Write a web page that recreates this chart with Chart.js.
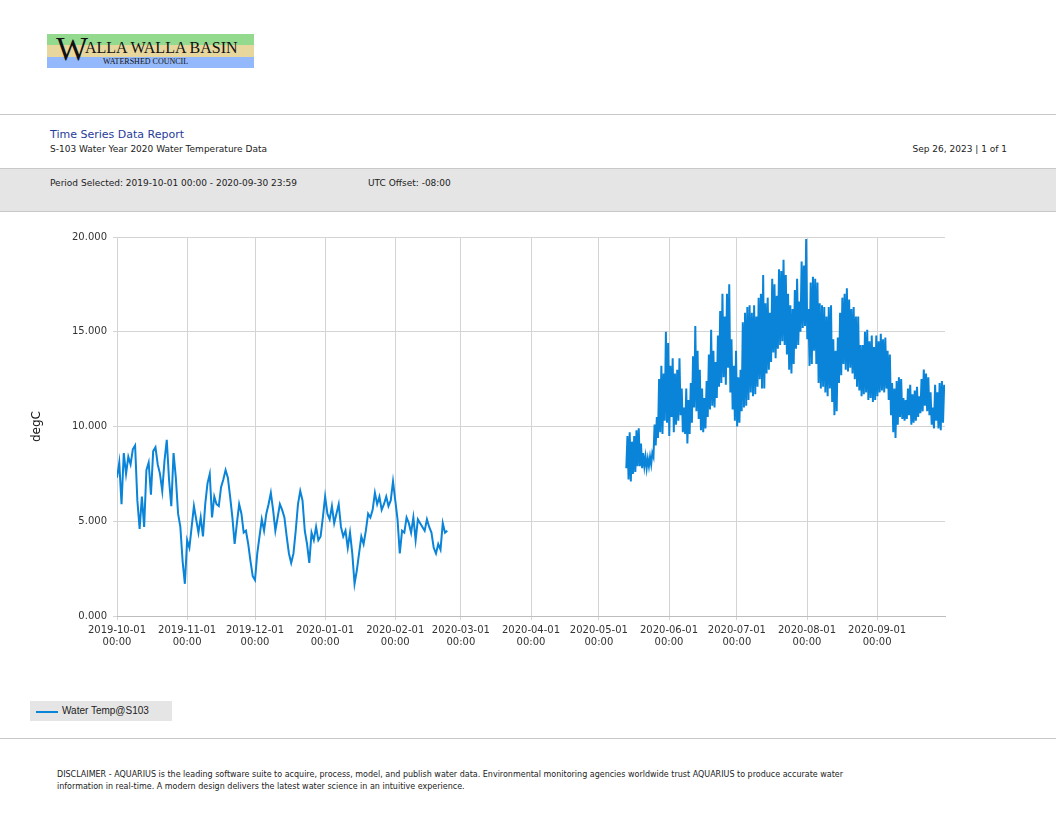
<!DOCTYPE html>
<html>
<head>
<meta charset="utf-8">
<script src="https://cdn.jsdelivr.net/npm/chart.js@4"></script>
<style>
  body { margin: 0; width: 1056px; height: 816px; position: relative; background: #fff; font-family: "DejaVu Sans", sans-serif; color: #222; overflow: hidden; }
  .abs { position: absolute; }
  .logo { left: 47px; top: 34px; width: 207px; height: 34px; }
  .band { position: absolute; left: 0; width: 207px; }
  .hr { left: 0; width: 1056px; height: 1px; background: #c8c8c8; }
  .small { font-size: 9px; }
</style>
</head>
<body>
<div class="abs logo">
  <div class="band" style="top:0;height:11px;background:#94da8e"></div>
  <div class="band" style="top:11px;height:12px;background:#e8d79d"></div>
  <div class="band" style="top:23px;height:11px;background:#93b8fb"></div>
  <div class="abs" style="left:9px;top:-2px;font-family:'Liberation Serif',serif;font-size:34px;line-height:34px;color:#111">W</div>
  <div class="abs" style="left:38px;top:5px;font-family:'Liberation Serif',serif;font-size:16px;line-height:17px;color:#111">ALLA WALLA BASIN</div>
  <div class="abs" style="left:56px;top:23px;font-family:'Liberation Serif',serif;font-size:8px;line-height:10px;color:#111">WATERSHED COUNCIL</div>
</div>
<div class="abs hr" style="top:114px"></div>
<div class="abs" style="left:50px;top:128px;font-size:11px;color:#1f3c9a">Time Series Data Report</div>
<div class="abs small" style="left:50px;top:144px">S-103 Water Year 2020 Water Temperature Data</div>
<div class="abs small" style="right:49px;top:144px">Sep 26, 2023 | 1 of 1</div>
<div class="abs" style="left:0;top:168px;width:1056px;height:42px;background:#e5e5e5;border-top:1px solid #c8c8c8;border-bottom:1px solid #c8c8c8"></div>
<div class="abs small" style="left:50px;top:178px">Period Selected: 2019-10-01 00:00 - 2020-09-30 23:59</div>
<div class="abs small" style="left:368px;top:178px">UTC Offset: -08:00</div>
<div class="abs" style="left:30px;top:225px;width:925px;height:440px"><canvas id="c"></canvas></div>
<div class="abs" style="left:30px;top:701px;width:142px;height:20px;background:#e5e5e5"></div>
<div class="abs" style="left:36px;top:711px;width:22px;height:2px;background:#0a84d8"></div>
<div class="abs" style="left:62px;top:705px;font-size:10px;font-family:'Liberation Sans',sans-serif">Water Temp@S103</div>
<div class="abs hr" style="top:738px"></div>
<div class="abs" style="left:57px;top:769px;font-size:8px;line-height:11.5px">DISCLAIMER - AQUARIUS is the leading software suite to acquire, process, model, and publish water data. Environmental monitoring agencies worldwide trust AQUARIUS to produce accurate water<br>information in real-time. A modern design delivers the latest water science in an intuitive experience.</div>
<script>
// days since 2019-10-01 for each month start
const tickDays = [0, 31, 61, 92, 123, 152, 183, 213, 244, 274, 305, 336];
const tickLabels = ['2019-10-01', '2019-11-01', '2019-12-01', '2020-01-01', '2020-02-01', '2020-03-01',
  '2020-04-01', '2020-05-01', '2020-06-01', '2020-07-01', '2020-08-01', '2020-09-01'];
const yTicks = [0, 5, 10, 15, 20];

// autumn/winter segment: one reading per day from day 0
const winterTemp = [
  7.3, 8.1, 5.9, 8.6, 7.5, 8.4, 8.0, 8.8, 9.0, 6.1, 4.6, 6.3, 4.7, 7.7, 8.1, 6.4, 8.7, 8.9, 8.0, 7.5,
  6.6, 8.2, 9.3, 7.2, 5.8, 8.6, 7.3, 5.4, 4.7, 2.9, 1.7, 4.0, 3.6, 4.7, 5.8, 5.1, 4.4, 5.2, 4.2, 5.9,
  7.0, 7.5, 5.2, 6.3, 5.9, 5.8, 6.8, 7.2, 7.7, 7.3, 6.3, 5.2, 3.8, 4.9, 5.9, 5.4, 4.4, 4.5, 3.8, 2.9,
  2.1, 1.9, 3.3, 4.2, 5.1, 4.5, 5.4, 5.9, 6.5, 5.6, 4.5, 5.2, 5.9, 5.6, 5.2, 4.2, 3.3, 2.8, 3.3, 4.5,
  5.9, 6.6, 6.1, 4.5, 3.8, 2.8, 4.4, 4.0, 4.7, 4.0, 4.2, 5.2, 6.3, 5.4, 5.1, 5.8, 4.9, 5.4, 5.9, 4.7,
  4.2, 4.5, 3.6, 4.4, 3.3, 1.7, 2.4, 3.3, 4.2, 3.8, 4.5, 5.4, 5.2, 5.6, 6.5, 5.9, 6.3, 5.6, 5.9, 6.3,
  5.8, 6.1, 7.1, 6.1, 5.1, 3.3, 4.5, 4.4, 5.2, 4.9, 4.4, 5.2, 4.0, 5.1, 4.9, 4.7, 4.5, 5.1, 4.7, 4.4,
  3.6, 3.3, 3.8, 3.5, 4.9, 4.4, 4.5
];

// spring/summer segment: daily max and min from day 225
const summerStart = 225;
const summerMax = [
  9.5, 9.7, 9.2, 9.5, 9.8, 9.9, 9.1, 8.6, 8.4, 8.3, 8.4, 8.6, 10.1, 10.5, 12.5, 13.2, 12.8, 15.0, 14.4, 13.2,
  13.6, 12.8, 13.0, 13.6, 12.0, 11.0, 12.0, 11.4, 12.3, 13.7, 15.3, 14.0, 13.0, 12.0, 11.5, 12.4, 13.8, 15.1, 14.0, 13.4,
  14.8, 16.1, 17.0, 15.8, 17.0, 17.5, 14.6, 13.2, 14.0, 12.6, 13.0, 15.5, 16.0, 16.3, 16.4, 16.0, 16.4, 15.8, 16.8, 17.0,
  18.0, 16.5, 16.8, 16.0, 17.8, 17.5, 16.9, 18.3, 18.2, 18.8, 18.0, 17.0, 16.4, 16.2, 17.2, 17.8, 16.6, 18.7, 18.5, 19.9,
  16.2, 17.6, 17.9, 17.8, 17.6, 16.5, 16.4, 16.3, 15.8, 16.3, 16.4, 14.6, 14.0, 14.7, 16.0, 16.8, 17.0, 17.3, 16.7, 16.2,
  16.3, 15.8, 15.8, 14.3, 14.3, 15.0, 15.1, 14.5, 14.8, 14.2, 14.8, 14.5, 14.9, 14.6, 14.7, 14.0, 13.8, 12.3, 12.0, 12.4,
  12.6, 12.5, 11.5, 11.4, 12.0, 12.2, 11.7, 11.9, 12.1, 11.6, 12.5, 13.0, 12.8, 12.6, 11.8, 11.0, 12.2, 11.8, 12.3, 12.4,
  12.2
];
const summerMin = [
  7.8, 7.2, 7.1, 7.5, 7.6, 7.9, 7.9, 7.8, 7.9, 7.8, 7.9, 8.0, 8.4, 9.0, 9.4, 9.7, 9.6, 10.3, 10.2, 9.5,
  10.5, 9.7, 10.1, 10.3, 10.6, 9.7, 9.6, 9.1, 9.6, 10.2, 11.0, 10.8, 10.4, 9.8, 9.7, 9.9, 10.5, 10.9, 11.1, 11.0,
  11.5, 12.1, 12.3, 12.6, 12.2, 13.1, 11.8, 10.9, 10.3, 10.0, 10.2, 10.8, 11.0, 11.1, 11.4, 11.8, 11.6, 11.7, 12.1, 12.5,
  12.0, 12.0, 12.8, 13.0, 13.4, 13.9, 13.6, 14.1, 14.3, 14.5, 14.3, 13.8, 13.0, 12.8, 13.3, 14.1, 14.3, 15.0, 15.2, 15.3,
  14.6, 13.2, 13.3, 14.0, 13.3, 12.3, 12.0, 12.1, 11.8, 11.6, 12.0, 11.3, 10.6, 10.8, 12.3, 12.7, 13.3, 13.0, 12.9, 13.1,
  12.8, 12.5, 12.1, 11.9, 11.6, 11.7, 11.8, 11.4, 11.5, 11.3, 11.4, 11.6, 11.8, 11.9, 11.8, 12.0, 11.4, 10.6, 9.7, 9.4,
  10.1, 10.5, 10.4, 10.3, 10.4, 10.6, 10.1, 10.2, 10.3, 10.5, 10.7, 10.8, 11.1, 10.8, 10.6, 10.1, 9.9, 10.3, 9.9, 9.8,
  10.2
];

const points = [];
winterTemp.forEach((v, i) => points.push({ x: i, y: v }));
points.push({ x: winterTemp.length, y: null });
summerMax.forEach((v, i) => {
  points.push({ x: summerStart + i + 0.125, y: summerMin[i] });
  points.push({ x: summerStart + i + 0.625, y: v });
});

new Chart(document.getElementById('c'), {
  type: 'line',
  data: {
    datasets: [{
      data: points,
      borderColor: '#0a84d8',
      borderWidth: 2,
      pointRadius: 0,
      tension: 0,
      spanGaps: false
    }]
  },
  options: {
    responsive: true,
    maintainAspectRatio: false,
    animation: false,
    layout: { padding: { top: 11, right: 10 } },
    plugins: { legend: { display: false }, tooltip: { enabled: false } },
    scales: {
      x: {
        type: 'linear',
        min: 0,
        max: 366,
        afterBuildTicks: axis => { axis.ticks = tickDays.map(v => ({ value: v })); },
        afterFit: axis => { axis.height = 49; },
        grid: { color: '#d4d4d4', drawTicks: true, tickLength: 4 },
        border: { color: '#bdbdbd' },
        ticks: {
          autoSkip: false,
          maxRotation: 0,
          color: '#333',
          font: { size: 10, family: 'DejaVu Sans' },
          padding: 4,
          callback: v => { const k = tickDays.indexOf(v); return k < 0 ? '' : [tickLabels[k], '00:00']; }
        }
      },
      y: {
        min: 0,
        max: 20,
        afterBuildTicks: axis => { axis.ticks = yTicks.map(v => ({ value: v })); },
        afterFit: axis => { axis.width = 87; },
        grid: { color: '#d4d4d4', drawTicks: true, tickLength: 4 },
        border: { display: false },
        title: { display: true, text: 'degC', color: '#111', font: { size: 12, family: 'DejaVu Sans' }, padding: 0 },
        ticks: {
          color: '#333',
          font: { size: 10, family: 'DejaVu Sans' },
          padding: 6,
          callback: v => v.toFixed(3)
        }
      }
    }
  }
});
</script>
</body>
</html>
